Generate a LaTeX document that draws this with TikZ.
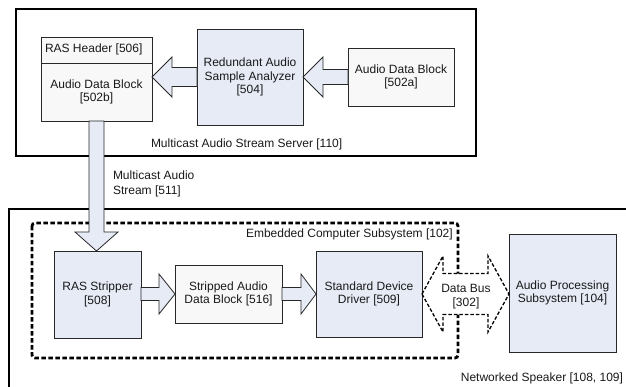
\documentclass[tikz,border=0pt]{standalone}
\usepackage{fontspec}
\setmainfont{Liberation Sans}
\usetikzlibrary{calc}
\definecolor{boxblue}{RGB}{230,235,246}
\definecolor{boxgray}{RGB}{248,248,248}
\definecolor{edge}{RGB}{40,40,40}
\definecolor{txt}{RGB}{25,25,25}
\begin{document}
\begin{tikzpicture}[x=1pt,y=-1pt,
  font=\fontsize{12}{13.5}\selectfont, text=txt,
  box/.style={draw=edge,line width=0.8pt,inner sep=0pt,outer sep=0pt,align=center,anchor=north west},
  bluebox/.style={box,fill=boxblue},
  graybox/.style={box,fill=boxgray},
  barrow/.style={draw=edge,line width=0.8pt,fill=boxblue,line join=miter},
  framebox/.style={draw=black,line width=1.6pt,inner sep=0pt,outer sep=0pt,anchor=north west},
  lbl/.style={inner sep=0pt,outer sep=0pt,align=left},
  embedded/.style={draw=black,line width=2.8pt,dash pattern=on 4.5pt off 2.5pt,rounded corners=3pt},
  busarrow/.style={draw=black,line width=1.3pt,dash pattern=on 3.5pt off 2pt,fill=white,line join=miter}]
\useasboundingbox (0,0) rectangle (626,387);

% frames
\node[framebox,minimum width=460pt,minimum height=147pt] (server) at (16,9) {};
\coordinate (spkTR) at (630,209);
\coordinate (spkTL) at (9,209);
\coordinate (spkBL) at (9,392);
\draw[black,line width=1.6pt] (spkTR) -- (spkTL) -- (spkBL);
\draw[embedded] (32,223) rectangle (458,358);

% server boxes
\node[graybox,minimum width=111pt,minimum height=26pt] (n506) at (41,37) {};
\node[lbl,anchor=west] (t506) at (45,49) {RAS Header [506]};
\node[graybox,minimum width=111pt,minimum height=58pt] (n502b) at (41,63) {Audio Data Block\\{}[502b]};
\node[bluebox,minimum width=106pt,minimum height=96pt] (n504) at (197,29) {Redundant Audio\\Sample Analyzer\\{}[504]};
\node[graybox,minimum width=106pt,minimum height=58pt] (n502a) at (348,48) {Audio Data Block\\{}[502a]};
\node[lbl,anchor=west] (tserver) at (151,144) {Multicast Audio Stream Server [110]};

% speaker boxes
\node[bluebox,minimum width=87pt,minimum height=87pt] (n508) at (54,251) {RAS Stripper\\{}[508]};
\node[graybox,minimum width=107pt,minimum height=58pt] (n516) at (175,265) {Stripped Audio\\Data Block [516]};
\node[bluebox,minimum width=106pt,minimum height=86pt] (n509) at (316,251) {Standard Device\\Driver [509]};
\node[bluebox,minimum width=107pt,minimum height=118pt] (n104) at (509,234) {Audio Processing\\Subsystem [104]};

% block arrows
\draw[barrow] let \p1=(n504.east |- n502a.west), \p2=(n502a.west) in
  (\p1) -- (\x1+20pt,\y1+20pt) -- (\x1+20pt,\y1+7.5pt) -- (\x2,\y1+7.5pt) -- (\x2,\y1-7.5pt)
  -- (\x1+20pt,\y1-7.5pt) -- (\x1+20pt,\y1-20pt) -- cycle;
\draw[barrow] let \p1=(n502b.east |- n504.west), \p2=(n504.west) in
  (\p1) -- (\x1+20pt,\y1+20pt) -- (\x1+20pt,\y1+9.5pt) -- (\x2,\y1+9.5pt) -- (\x2,\y1-9.5pt)
  -- (\x1+20pt,\y1-9.5pt) -- (\x1+20pt,\y1-20pt) -- cycle;
\draw[barrow] let \p1=(n502b.south |- n508.north), \p2=(n502b.south) in
  (\p1) -- (\x1-21.5pt,\y1+19pt) -- (\x1-7.5pt,\y1+19pt) -- (\x1-7.5pt,\y2) -- (\x1+7.5pt,\y2)
  -- (\x1+7.5pt,\y1+19pt) -- (\x1+21.5pt,\y1+19pt) -- cycle;
\draw[barrow] let \p1=(n516.west), \p2=(n508.east |- n516.west) in
  (\p1) -- (\x1-16pt,\y1+20pt) -- (\x1-16pt,\y1+6.5pt) -- (\x2,\y1+6.5pt) -- (\x2,\y1-6.5pt)
  -- (\x1-16pt,\y1-6.5pt) -- (\x1-16pt,\y1-20pt) -- cycle;
\draw[barrow] let \p1=(n509.west |- n516.east), \p2=(n516.east) in
  (\p1) -- (\x1-15pt,\y1+20pt) -- (\x1-15pt,\y1+6.5pt) -- (\x2,\y1+6.5pt) -- (\x2,\y1-6.5pt)
  -- (\x1-15pt,\y1-6.5pt) -- (\x1-15pt,\y1-20pt) -- cycle;

% data bus
\draw[busarrow] let \p1=(n509.east), \p2=(n104.west |- n509.east) in
  (\p1) -- (\x1+21pt,\y1+38pt) -- (\x1+21pt,\y1+20.5pt) -- (\x2-21pt,\y1+20.5pt) -- (\x2-21pt,\y1+38pt)
  -- (\p2) -- (\x2-21pt,\y1-38pt) -- (\x2-21pt,\y1-20.5pt) -- (\x1+21pt,\y1-20.5pt) -- (\x1+21pt,\y1-38pt) -- cycle;
\node[lbl,align=center] (tbus) at (466,296.5) {Data Bus\\{}[302]};

% labels
\node[lbl,anchor=north west,font=\fontsize{12}{15}\selectfont] (t511) at (113,171) {Multicast Audio\\Stream [511]};
\node[lbl,anchor=west] (t102) at (246,234) {Embedded Computer Subsystem [102]};
\node[lbl,anchor=east] (tspk) at (623,378) {Networked Speaker [108, 109]};
\end{tikzpicture}
\end{document}
